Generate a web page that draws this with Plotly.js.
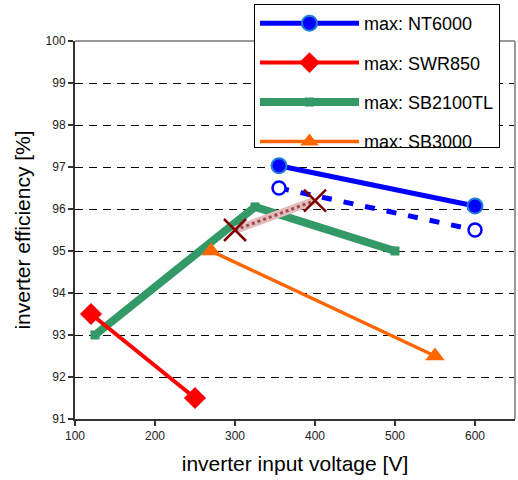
<!DOCTYPE html>
<html>
<head>
<meta charset="utf-8">
<script src="https://cdn.plot.ly/plotly-3.0.1.min.js"></script>
<style>html,body{margin:0;padding:0;background:#fff;}#chart{width:518px;height:480px;}</style>
</head>
<body>
<div id="chart"></div>
<script>
// Data
const nt6000X = [355, 600];
const nt6000Y = [97.03, 96.07];
const nt6000bX = [355, 600];
const nt6000bY = [96.5, 95.5];
const swr850X = [120, 250];
const swr850Y = [93.5, 91.5];
const sb2100X = [125, 325, 500];
const sb2100Y = [93.0, 96.05, 95.0];
const sb3000X = [270, 550];
const sb3000Y = [95.0, 92.5];
const crossX = [300, 400];
const crossY = [95.5, 96.2];
const seriesNames = ['max: NT6000', 'max: SWR850', 'max: SB2100TL', 'max: SB3000'];
const xTicks = [100, 200, 300, 400, 500, 600];
const yTicks = [91, 92, 93, 94, 95, 96, 97, 98, 99, 100];

const traces = [
  {x: sb2100X, y: sb2100Y, name: seriesNames[2], legendgroup: 'c', mode: 'lines+markers', legendrank: 3,
   line: {color: '#339966', width: 8}, marker: {symbol: 'square', size: 9, color: '#339966'}},
  {x: sb3000X, y: sb3000Y, name: seriesNames[3], legendgroup: 'd', mode: 'lines+markers', legendrank: 4,
   line: {color: '#FF6600', width: 3.5}, marker: {symbol: 'triangle-up', size: 17, color: '#FF6600'}},
  {x: swr850X, y: swr850Y, name: seriesNames[1], legendgroup: 'b', mode: 'lines+markers', legendrank: 2,
   line: {color: '#FF0000', width: 4}, marker: {symbol: 'diamond', size: 17, color: '#FF0000'}},
  {x: nt6000X, y: nt6000Y, name: seriesNames[0], legendgroup: 'a', mode: 'lines+markers', legendrank: 1,
   line: {color: '#0000FF', width: 5}, marker: {symbol: 'circle', size: 15, color: '#0000FF', line: {color: '#1f7fd6', width: 2}}},
  {x: nt6000bX, y: nt6000bY, mode: 'lines+markers', showlegend: false,
   line: {color: '#0000FF', width: 5, dash: '10px,12px'}, marker: {symbol: 'circle', size: 13, color: '#FFFFFF', line: {color: '#0000FF', width: 2.5}}},
  {x: crossX, y: crossY, mode: 'lines', showlegend: false,
   line: {color: '#e2bcbc', width: 8}},
  {x: crossX, y: crossY, mode: 'lines', showlegend: false,
   line: {color: '#a04a4a', width: 3, dash: 'dot'}},
  {x: crossX, y: crossY, mode: 'markers', showlegend: false,
   marker: {symbol: 'x-thin', size: 22, color: '#800000', line: {color: '#800000', width: 2.5}}}
];

const layout = {
  width: 518, height: 480,
  margin: {l: 75, r: 3, t: 41, b: 61},
  paper_bgcolor: '#FFFFFF', plot_bgcolor: '#FFFFFF',
  font: {family: 'Liberation Sans, Arial, sans-serif', color: '#000'},
  xaxis: {
    range: [100, 650], tickvals: xTicks, ticks: 'outside', ticklen: 5, tickwidth: 1.5, tickcolor: '#333',
    showgrid: false, zeroline: false, showline: true, linecolor: '#333', linewidth: 2,
    tickfont: {size: 12, color: '#222'},
    title: {text: 'inverter input voltage [V]', font: {size: 21, color: '#000'}, standoff: 14}
  },
  yaxis: {
    range: [91, 100], tickvals: yTicks, ticks: 'outside', ticklen: 5, tickwidth: 1.5, tickcolor: '#333',
    showgrid: true, gridcolor: '#000', gridwidth: 1, griddash: '8px,6px', zeroline: false,
    showline: true, linecolor: '#333', linewidth: 2,
    tickfont: {size: 12, color: '#222'},
    title: {text: 'inverter efficiency [%]', font: {size: 21, color: '#000'}, standoff: 9}
  },
  shapes: [
    {type: 'line', xref: 'paper', yref: 'paper', x0: 0, x1: 1, y0: 1, y1: 1, line: {color: '#999', width: 2}, layer: 'above'},
    {type: 'line', xref: 'paper', yref: 'paper', x0: 1, x1: 1, y0: 0, y1: 1, line: {color: '#999', width: 2}, layer: 'above'}
  ],
  showlegend: true,
  legend: {
    x: (254 - 75) / 440, y: 1 + (41 - 4) / 378, xanchor: 'left', yanchor: 'top',
    bgcolor: '#FFFFFF', bordercolor: '#000', borderwidth: 1,
    font: {size: 18, color: '#000'}, itemwidth: 99, tracegroupgap: 13, traceorder: 'grouped',
    maxheight: 144
  }
};

Plotly.newPlot('chart', traces, layout, {displayModeBar: false, staticPlot: true});
</script>
</body>
</html>
